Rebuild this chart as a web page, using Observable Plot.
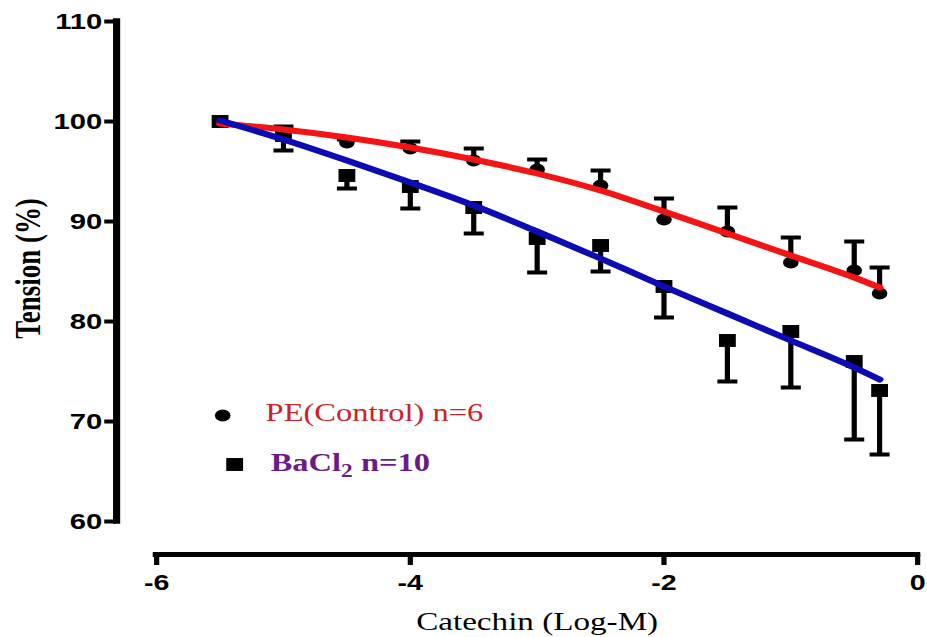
<!DOCTYPE html>
<html>
<head>
<meta charset="utf-8">
<script src="https://cdn.jsdelivr.net/npm/d3@7"></script>
<script src="https://cdn.jsdelivr.net/npm/@observablehq/plot@0.6"></script>
<style>
  html, body { margin: 0; padding: 0; background: #ffffff; }
  #chart { width: 927px; height: 637px; overflow: hidden; }
</style>
</head>
<body>
<div id="chart"></div>
<script>
// ---- data ----
const xLog = [-5.5, -5, -4.5, -4, -3.5, -3, -2.5, -2, -1.5, -1, -0.5, -0.3];
const controlMean = [100, 99.0, 97.9, 97.3, 96.1, 95.2, 93.6, 90.2, 89.0, 85.9, 85.1, 82.8];
const controlSem  = [0, 0.5, 0.3, 0.7, 1.2, 1.0, 1.5, 2.1, 2.4, 2.5, 2.9, 2.6];
const bacl2Mean   = [100, 98.6, 94.6, 93.5, 91.4, 88.3, 87.6, 83.5, 78.1, 79.0, 76.0, 73.1];
const bacl2Sem    = [0, 1.5, 1.3, 2.2, 2.6, 3.4, 2.6, 3.1, 4.1, 5.6, 7.8, 6.4];
const controlFit  = [99.8, 99.2, 98.4, 97.4, 96.2, 94.8, 93.1, 91.0, 88.8, 86.6, 84.4, 83.4];
const bacl2Fit    = [100.1, 98.2, 96.1, 93.9, 91.6, 89.0, 86.3, 83.5, 80.8, 78.1, 75.4, 74.2];
const xTicks = [-6, -4, -2, 0];
const yTicks = [60, 70, 80, 90, 100, 110];
const xLabel = "Catechin (Log-M)";
const yLabel = "Tension (%)";
const controlName = "PE(Control) n=6";
const bacl2Name = "BaCl2 n=10";

// ---- tables built from the arrays ----
const control = xLog.map((x, i) => ({x, mean: controlMean[i], sem: controlSem[i], fit: controlFit[i]}));
const bacl2 = xLog.map((x, i) => ({x, mean: bacl2Mean[i], sem: bacl2Sem[i], fit: bacl2Fit[i]}));

// horizontal cap symbol for error bars
const capSymbol = {
  draw(context, size) {
    const w = Math.sqrt(size / Math.PI);
    context.moveTo(-w, 0);
    context.lineTo(w, 0);
  }
};

const S = 1.3;               // horizontal stretch of the reference picture
const W = 927 / S;
const sans = "Liberation Sans, Arial, sans-serif";
const serif = "Liberation Serif, Times New Roman, serif";
const RED = "#f51414";
const BLUE = "#0c0cb4";

const svg = Plot.plot({
  width: W,
  height: 637,
  marginLeft: 120,
  marginRight: W - 917 / S,
  marginTop: 21,
  marginBottom: 116,
  x: {domain: [xTicks[0], xTicks[xTicks.length - 1]], label: null},
  y: {domain: [yTicks[0], yTicks[yTicks.length - 1]], label: null},
  style: {fontFamily: sans, color: "black", background: "white", overflow: "visible"},
  marks: [
    // y axis
    Plot.ruleX([xTicks[0]], {y1: yTicks[0], y2: yTicks[yTicks.length - 1], dx: -30.8, stroke: "black", strokeWidth: 5.5, strokeLinecap: "square"}),
    Plot.axisY(yTicks, {anchor: "left", dx: -30.8, tickSize: 9, tickPadding: 2, stroke: "black", strokeWidth: 4, fontSize: 22.5, fontWeight: "bold", fontFamily: sans, fill: "black", label: null}),
    // x axis
    Plot.ruleY([yTicks[0]], {x1: xTicks[0], x2: xTicks[xTicks.length - 1], dy: 33, stroke: "black", strokeWidth: 5, strokeLinecap: "square"}),
    Plot.axisX(xTicks, {anchor: "bottom", dy: 33, tickSize: 11, tickPadding: 9, stroke: "black", strokeWidth: 4, fontSize: 22, fontWeight: "bold", fontFamily: sans, fill: "black", label: null, tickFormat: d => d === 0 ? "0" : String(d).replace("−", "-")}),
    // axis titles
    Plot.text([xLabel], {frameAnchor: "bottom", dy: 100, text: d => d, textAnchor: "middle", lineAnchor: "middle", fontSize: 25.5, fontFamily: serif, fill: "black"}),
    Plot.text([yLabel], {frameAnchor: "left", dx: -98.5, dy: -3, rotate: -90, text: d => d, textAnchor: "middle", lineAnchor: "middle", fontSize: 27, fontWeight: "bold", fontFamily: serif, fill: "black"}),
    // error bars: control upward, BaCl2 downward
    Plot.ruleX(control.filter(d => d.sem > 0), {x: "x", y1: "mean", y2: d => d.mean + d.sem, stroke: "black", strokeWidth: 4}),
    Plot.dot(control.filter(d => d.sem > 0), {x: "x", y: d => d.mean + d.sem, symbol: capSymbol, r: 7.7, fill: "none", stroke: "black", strokeWidth: 4}),
    Plot.ruleX(bacl2.filter(d => d.sem > 0), {x: "x", y1: "mean", y2: d => d.mean - d.sem, stroke: "black", strokeWidth: 4}),
    Plot.dot(bacl2.filter(d => d.sem > 0), {x: "x", y: d => d.mean - d.sem, symbol: capSymbol, r: 7.7, fill: "none", stroke: "black", strokeWidth: 4}),
    // symbols
    Plot.dot(control, {x: "x", y: "mean", r: 6, fill: "black", stroke: "none", symbol: "circle"}),
    Plot.dot(bacl2, {x: "x", y: "mean", r: 7.3, fill: "black", stroke: "none", symbol: "square"}),
    // fitted curves
    Plot.line(control, {x: "x", y: "fit", stroke: RED, strokeWidth: 6, curve: "monotone-x"}),
    Plot.line(bacl2, {x: "x", y: "fit", stroke: BLUE, strokeWidth: 6, curve: "monotone-x"}),
    // legend
    Plot.dot([controlName], {frameAnchor: "top-left", dx: 50.8, dy: 394, r: 6, fill: "black", symbol: "circle"}),
    Plot.text([controlName], {frameAnchor: "top-left", dx: 83.8, dy: 391, text: d => d, textAnchor: "start", lineAnchor: "middle", fontSize: 25, fontFamily: serif, fill: "#cc2229"}),
    Plot.dot([bacl2Name], {frameAnchor: "top-left", dx: 60, dy: 443, r: 7.3, fill: "black", symbol: "square"}),
    Plot.text([bacl2Name], {frameAnchor: "top-left", dx: 87.7, dy: 441, text: d => d, textAnchor: "start", lineAnchor: "middle", fontSize: 25, fontWeight: "bold", fontFamily: serif, fill: "#6b1a8c"})
  ]
});

// stretch horizontally like the reference picture
svg.setAttribute("preserveAspectRatio", "none");
svg.style.width = "927px";
svg.style.height = "637px";
svg.style.maxWidth = "none";
document.getElementById("chart").appendChild(svg);

// subscript 2 in the BaCl2 legend entry
const ns = "http://www.w3.org/2000/svg";
for (const t of svg.querySelectorAll("text")) {
  if (t.textContent === bacl2Name) {
    t.textContent = "";
    t.appendChild(document.createTextNode("BaCl"));
    const sub = document.createElementNS(ns, "tspan");
    sub.setAttribute("dy", "6");
    sub.setAttribute("font-size", "18");
    sub.textContent = "2";
    t.appendChild(sub);
    const rest = document.createElementNS(ns, "tspan");
    rest.setAttribute("dy", "-6");
    rest.textContent = " n=10";
    t.appendChild(rest);
  }
}
</script>
</body>
</html>
